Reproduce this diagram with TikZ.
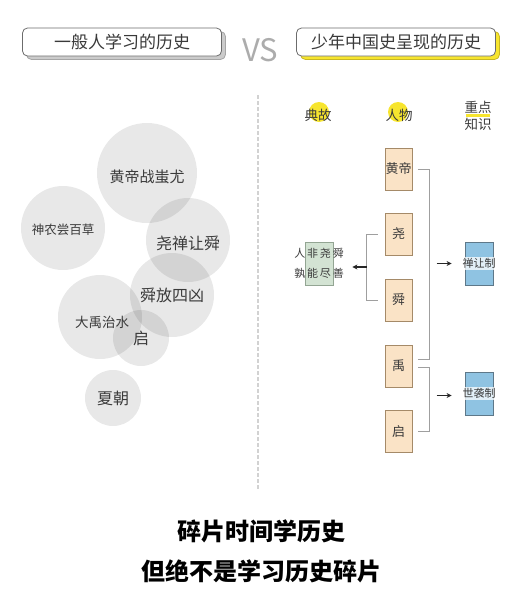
\documentclass[tikz,border=0pt]{standalone}
\usepackage{fontspec}
\setmainfont{Noto Sans CJK SC}
\usetikzlibrary{positioning, arrows.meta, calc, backgrounds, shadows}

\definecolor{tanfill}{HTML}{FAE3C6}
\definecolor{tanline}{HTML}{A58A68}
\definecolor{bluefill}{HTML}{8FC3E2}
\definecolor{blueline}{HTML}{5E7889}
\definecolor{greenfill}{HTML}{D3E3D3}
\definecolor{greenline}{HTML}{93A593}
\definecolor{hilite}{HTML}{F7E52E}
\definecolor{hiliteline}{HTML}{C9B820}
\definecolor{shadowgray}{HTML}{CBCBCB}
\definecolor{inkgray}{HTML}{3A3A3A}

\begin{document}
\begin{tikzpicture}[
    x=1pt, y=-1pt,
    >={Stealth[length=5pt, width=5pt]},
    titlebox/.style={
        draw=gray!85!black, line width=0.8pt,
        rectangle, rounded corners=5pt,
        minimum width=199pt, minimum height=28pt,
        fill=white, text=inkgray,
        font=\fontsize{17}{20}\selectfont
    },
    bubble/.style={circle, fill=black, fill opacity=0.09, inner sep=0pt},
    bubbletext/.style={text=inkgray, font=\fontsize{15}{17}\selectfont},
    header/.style={text=inkgray, align=center, font=\fontsize{13.5}{17}\selectfont},
    hidisc/.style={circle, fill=hilite, minimum size=20pt, inner sep=0pt},
    person/.style={
        draw=tanline, fill=tanfill, line width=0.8pt,
        minimum width=27pt, minimum height=42pt, inner sep=0pt,
        text=inkgray, font=\fontsize{13}{15}\selectfont
    },
    knowbox/.style={draw=blueline, fill=bluefill, line width=0.8pt, minimum width=28pt, minimum height=43pt},
    storybox/.style={draw=greenline, fill=greenfill, line width=0.8pt, minimum width=28pt, minimum height=43pt},
    smalltext/.style={fill=white, fill opacity=0.75, text opacity=1, inner sep=1pt, text=inkgray, font=\fontsize{11}{20}\selectfont},
    bracket/.style={draw=gray!75, line width=0.6pt},
    arrow/.style={->, line width=1.2pt, draw=black!85},
    slogan/.style={font=\fontsize{24}{28}\selectfont\bfseries, text=black}
]
\useasboundingbox (0,0) rectangle (517,600);

% Titles
\node[titlebox, general shadow={shadow xshift=4pt, shadow yshift=-3.5pt, fill=shadowgray, draw=gray!70}] (common) at (122,42) {一般人学习的历史};
\node[titlebox, general shadow={shadow xshift=4pt, shadow yshift=-3.5pt, fill=hilite, draw=hiliteline}] (youth) at (396,42) {少年中国史呈现的历史};
\node[font=\fontsize{31}{31}\selectfont, text=gray!65] (vs) at (260,50) {VS};

% Divider
\draw[gray!35, line width=1.3pt, dash pattern=on 4pt off 2pt] (258,95) -- (258,490);

% Left: scattered stories
\begin{scope}[on background layer]
    \node[bubble, minimum size=100pt] (b-chiyou) at (147,173) {};
    \node[bubble, minimum size=84pt] (b-shennong) at (63,228) {};
    \node[bubble, minimum size=84pt] (b-shanrang) at (188,240) {};
    \node[bubble, minimum size=84pt] (b-sixiong) at (172,295) {};
    \node[bubble, minimum size=84pt] (b-zhishui) at (100,317) {};
    \node[bubble, minimum size=56pt] (b-qi) at (141,338) {};
    \node[bubble, minimum size=56pt] (b-xia) at (113,398) {};
\end{scope}
\node[bubbletext] (t-chiyou) at ([yshift=-4pt]b-chiyou) {黄帝战蚩尤};
\node[bubbletext, font=\fontsize{12.5}{15}\selectfont] (t-shennong) at ([yshift=-2pt]b-shennong) {神农尝百草};
\node[bubbletext, font=\fontsize{16}{18}\selectfont] (t-shanrang) at ([yshift=-3pt]b-shanrang) {尧禅让舜};
\node[bubbletext, font=\fontsize{16}{18}\selectfont] (t-sixiong) at (b-sixiong) {舜放四凶};
\node[bubbletext, font=\fontsize{13.5}{15}\selectfont] (t-zhishui) at ([xshift=2pt,yshift=-5pt]b-zhishui) {大禹治水};
\node[bubbletext, font=\fontsize{16}{18}\selectfont] (t-qi) at (b-qi) {启};
\node[bubbletext, font=\fontsize{16}{18}\selectfont] (t-xia) at (b-xia) {夏朝};

% Right: column headers
\node[hidisc] (d-diangu) at (319,112) {};
\node[hidisc] (d-renwu) at (398,112) {};
\draw[hilite, line width=3pt] (466,115) -- (490,115);
\node[header] (h-diangu) at (318,115) {典故};
\node[header] (h-renwu) at (399,115) {人物};
\node[header] (h-zhishi) at (478,116) {重点\\知识};

% People
\node[person] (huangdi) at (398.5,169) {黄帝};
\node[person] (yao) at (398.5,234) {尧};
\node[person] (shun) at (398.5,300) {舜};
\node[person] (yu) at (398.5,366) {禹};
\node[person] (qi) at (398.5,431.5) {启};

% Story and key knowledge
\node[storybox] (diangu) at (319,263.5) {};
\node[smalltext, fill opacity=0, align=center] (diangu-t) at (diangu) {人\,非\,尧\,舜\\孰\,能\,尽\,善};
\node[knowbox] (chanrang) at (479,263.5) {};
\node[smalltext] (chanrang-t) at (chanrang) {禅让制};
\node[knowbox] (shixi) at (479,393.5) {};
\node[smalltext] (shixi-t) at (shixi) {世袭制};

% Brackets
\draw[bracket] ([xshift=6pt]huangdi.east) -- ++(11,0) |- ([xshift=6pt,yshift=7pt]yu.east);
\draw[bracket] ([xshift=6pt,yshift=-1pt]yu.east) -- ++(11,0) |- ([xshift=6pt]qi.east);
\draw[bracket] ([xshift=-7pt]yao.west) -- ++(-11,0) |- ([xshift=-7pt]shun.west);

% Arrows
\coordinate (yaoshun) at ($(yao.west)!0.5!(shun.west)+(-18,0)$);
\draw[arrow] (yaoshun) -- ([xshift=19pt]diangu.east |- yaoshun);
\draw[arrow] ([xshift=-28pt]chanrang.west) -- ([xshift=-13pt]chanrang.west);
\draw[arrow] ([xshift=-28pt,yshift=-2pt]shixi.west) -- ([xshift=-13pt,yshift=-2pt]shixi.west);

% Slogan
\node[slogan] (slogan1) at (261,531) {碎片时间学历史};
\node[slogan] (slogan2) at (261,571) {但绝不是学习历史碎片};

\end{tikzpicture}
\end{document}
